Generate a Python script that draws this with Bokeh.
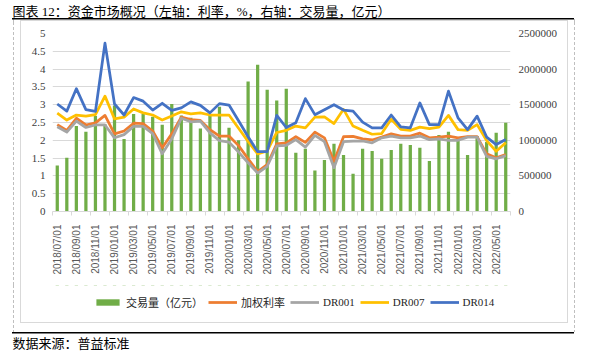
import math
from bokeh.plotting import figure
from bokeh.layouts import column
from bokeh.models import (Range1d, LinearAxis, FixedTicker, Legend, LegendItem,
                          Title, ColumnDataSource)
from bokeh.embed import file_html
from bokeh.resources import INLINE

# ---------------- data ----------------
months = ["2018/07/01", "2018/08/01", "2018/09/01", "2018/10/01", "2018/11/01", "2018/12/01",
          "2019/01/01", "2019/02/01", "2019/03/01", "2019/04/01", "2019/05/01", "2019/06/01",
          "2019/07/01", "2019/08/01", "2019/09/01", "2019/10/01", "2019/11/01", "2019/12/01",
          "2020/01/01", "2020/02/01", "2020/03/01", "2020/04/01", "2020/05/01", "2020/06/01",
          "2020/07/01", "2020/08/01", "2020/09/01", "2020/10/01", "2020/11/01", "2020/12/01",
          "2021/01/01", "2021/02/01", "2021/03/01", "2021/04/01", "2021/05/01", "2021/06/01",
          "2021/07/01", "2021/08/01", "2021/09/01", "2021/10/01", "2021/11/01", "2021/12/01",
          "2022/01/01", "2022/02/01", "2022/03/01", "2022/04/01", "2022/05/01", "2022/06/01"]

volume = [645000, 755000, 1200000, 1120000, 1340000, 1225000, 1490000, 1020000, 1370000, 1370000,
          1330000, 1220000, 1510000, 1350000, 1315000, 1165000, 1340000, 1470000, 1175000, 1000000,
          1825000, 2060000, 1710000, 1560000, 1725000, 825000, 880000, 575000, 725000, 950000,
          795000, 530000, 880000, 850000, 740000, 865000, 950000, 935000, 895000, 710000,
          1075000, 1120000, 1010000, 795000, 1060000, 975000, 1105000, 1245000]

weighted = [2.44, 2.28, 2.62, 2.43, 2.49, 2.70, 2.18, 2.26, 2.48, 2.47, 2.26, 1.79,
            2.18, 2.65, 2.58, 2.56, 2.30, 2.12, 2.12, 1.85, 1.48, 1.12, 1.32, 1.90,
            1.93, 2.10, 1.94, 2.23, 2.07, 1.41, 2.10, 2.11, 2.04, 2.01, 2.09, 2.18,
            2.12, 2.12, 2.20, 2.07, 2.09, 2.12, 2.07, 2.10, 2.10, 1.62, 1.51, 1.60]

dr001 = [2.38, 2.23, 2.54, 2.36, 2.43, 2.43, 2.07, 2.16, 2.39, 2.39, 2.19, 1.62,
         2.04, 2.62, 2.52, 2.54, 2.21, 1.99, 1.95, 1.67, 1.37, 1.08, 1.27, 1.84,
         1.86, 2.02, 1.81, 2.14, 1.96, 1.23, 1.96, 1.98, 1.98, 1.93, 2.07, 2.12,
         2.07, 2.07, 2.12, 2.02, 2.04, 2.00, 2.00, 2.09, 2.09, 1.55, 1.48, 1.57]

dr007 = [2.76, 2.57, 2.71, 2.68, 2.72, 3.24, 2.60, 2.65, 2.88, 2.77, 2.71, 2.57,
         2.68, 2.80, 2.74, 2.77, 2.71, 2.71, 2.71, 2.34, 1.97, 1.62, 1.70, 2.22,
         2.28, 2.40, 2.35, 2.65, 2.66, 2.47, 2.87, 2.40, 2.28, 2.17, 2.19, 2.59,
         2.31, 2.28, 2.37, 2.33, 2.37, 2.70, 2.30, 2.28, 2.44, 1.99, 1.69, 1.93]

dr014 = [3.02, 2.82, 3.45, 2.86, 2.81, 4.73, 3.02, 2.71, 3.20, 3.10, 2.85, 3.04,
         2.84, 2.91, 3.08, 2.98, 2.77, 3.03, 2.99, 2.55, 2.10, 1.68, 1.68, 2.70,
         2.36, 2.49, 3.17, 2.72, 2.86, 3.00, 2.85, 2.82, 2.51, 2.35, 2.35, 2.71,
         2.38, 2.35, 3.05, 2.44, 2.44, 3.38, 2.63, 2.30, 2.68, 2.09, 1.88, 2.02]

left_ticks = [0, 0.5, 1, 1.5, 2, 2.5, 3, 3.5, 4, 4.5, 5]
left_tick_labels = ["0", "0.5", "1", "1.5", "2", "2.5", "3", "3.5", "4", "4.5", "5"]
right_ticks = [0, 500000, 1000000, 1500000, 2000000, 2500000]
right_tick_labels = ["0", "500000", "1000000", "1500000", "2000000", "2500000"]

series_names = ["交易量（亿元）", "加权利率", "DR001", "DR007", "DR014"]
title_text = "图表 12：资金市场概况（左轴：利率，%，右轴：交易量，亿元）"
source_text = "数据来源：普益标准"

# ---------------- styles ----------------
C_BAR = "#70ad47"
C_W = "#ed7d31"
C_001 = "#a5a5a5"
C_007 = "#ffc000"
C_014 = "#4472c4"
SERIF_CJK = "'Liberation Serif', 'Noto Sans CJK SC'"
TXT = "#404040"
LW = 2.75

W, H = 590, 353
TOP_H = 22          # header strip (title)
MAIN_H = 263        # chart strip
BOT_H = H - TOP_H - MAIN_H  # legend + source strip (68)
FL, FR, FT, FB = 52, 510, 33, 211  # frame edges on the whole page

DASH = "repeating-linear-gradient(to bottom, #bfbfbf 0px, #bfbfbf 3px, transparent 3px, transparent 5px)"
BLACK = "linear-gradient(#000000, #000000)"
GREY = "linear-gradient(#d9d9d9, #d9d9d9)"
# page chrome: (x, y, w, h, image) on the whole page
CHROME = [
    (12, 17.5, 562, 1.5, BLACK),
    (12, 332, 562, 1.5, BLACK),
    (13, 19, 1, 313, DASH),
    (574, 19, 1, 313, DASH),
    (20, 20, 548, 1, GREY),
    (20, 322, 548, 1, GREY),
    (20, 20, 1, 302, GREY),
    (567, 20, 1, 303, GREY),
]


def chrome_styles(y0, h):
    imgs, sizes, poss = [], [], []
    for (x, y, w, hh, img) in CHROME:
        ys, ye = max(y, y0), min(y + hh, y0 + h)
        if ye > ys:
            imgs.append(img)
            sizes.append(f"{w}px {ye - ys}px")
            poss.append(f"{x}px {ys - y0}px")
    st = {"background-color": "white", "background-repeat": "no-repeat"}
    if imgs:
        st["background-image"] = ", ".join(imgs)
        st["background-size"] = ", ".join(sizes)
        st["background-position"] = ", ".join(poss)
    return st


def strip_fig(h, y0, top_border, bottom_border, y_range):
    f = figure(width=W, height=h, output_backend="svg", toolbar_location=None,
               x_range=Range1d(-0.5, len(months) - 0.5), y_range=y_range,
               x_axis_location=None, y_axis_location=None,
               min_border_left=FL, min_border_right=W - FR,
               min_border_top=top_border, min_border_bottom=bottom_border,
               styles=chrome_styles(y0, h))
    f.grid.visible = False
    f.outline_line_color = None
    f.background_fill_color = None
    f.border_fill_color = None
    return f


n = len(months)
xs = list(range(n))
src = ColumnDataSource(dict(x=xs, volume=volume, weighted=weighted,
                            dr001=dr001, dr007=dr007, dr014=dr014))

# ---------------- header strip: title ----------------
top = strip_fig(TOP_H, 0, 18, 0, Range1d(0, 1))
top.title.text = title_text
top.title.align = "left"
top.title.offset = 12 - FL
top.title.standoff = 0
top.title.text_font = SERIF_CJK
top.title.text_font_size = "13px"
top.title.text_font_style = "normal"
top.title.text_color = "black"

# ---------------- main chart ----------------
p = figure(width=W, height=MAIN_H, output_backend="svg", toolbar_location=None,
           x_range=Range1d(-0.5, n - 0.5), y_range=Range1d(0, 5),
           min_border_left=FL, min_border_right=W - FR,
           min_border_top=FT - TOP_H, min_border_bottom=TOP_H + MAIN_H - FB,
           styles=chrome_styles(TOP_H, MAIN_H))
p.outline_line_color = None
p.background_fill_color = "white"
p.border_fill_color = None
p.extra_y_ranges = {"vol": Range1d(0, 2500000)}

xax = p.xaxis[0]
xax.ticker = FixedTicker(ticks=list(range(0, n, 2)),
                         minor_ticks=[i - 0.5 for i in range(0, n + 1, 2)])
xax.major_label_overrides = {i: months[i] for i in range(0, n, 2)}
xax.major_label_orientation = math.pi / 2
xax.major_label_text_font = "Liberation Sans"
xax.major_label_text_font_size = "10px"
xax.major_label_text_color = "#595959"
xax.major_label_standoff = 9
xax.major_tick_line_color = None
xax.major_tick_out = 0
xax.major_tick_in = 0
xax.minor_tick_line_color = "#d9d9d9"
xax.minor_tick_out = 4
xax.minor_tick_in = 0
xax.axis_line_color = "#d9d9d9"

yax = p.yaxis[0]
yax.ticker = FixedTicker(ticks=left_ticks)
yax.major_label_overrides = {t: l for t, l in zip(left_ticks, left_tick_labels)}
yax.axis_line_color = None
yax.major_tick_line_color = None
yax.minor_tick_line_color = None
yax.major_tick_out = 0
yax.major_label_standoff = 7
yax.major_label_text_font = "Liberation Serif"
yax.major_label_text_font_size = "11px"
yax.major_label_text_color = TXT

rax = LinearAxis(y_range_name="vol", ticker=FixedTicker(ticks=right_ticks))
rax.major_label_overrides = {t: l for t, l in zip(right_ticks, right_tick_labels)}
rax.axis_line_color = None
rax.major_tick_line_color = None
rax.minor_tick_line_color = None
rax.major_tick_out = 0
rax.major_label_standoff = 8
rax.major_label_text_font = "Liberation Serif"
rax.major_label_text_font_size = "11px"
rax.major_label_text_color = TXT
p.add_layout(rax, "right")

p.xgrid.visible = False
p.ygrid.ticker = FixedTicker(ticks=left_ticks)
p.ygrid.grid_line_color = "#d9d9d9"
p.ygrid.grid_line_width = 1


def draw_series(f, y_range_name="default"):
    kw = {} if y_range_name == "default" else {"y_range_name": y_range_name}
    rb = f.vbar(x="x", top="volume", width=0.34, source=src,
                fill_color=C_BAR, line_color=None, **kw)
    rw = f.line("x", "weighted", source=src, line_color=C_W, line_width=LW, line_join="round")
    r1 = f.line("x", "dr001", source=src, line_color=C_001, line_width=LW, line_join="round")
    r7 = f.line("x", "dr007", source=src, line_color=C_007, line_width=LW, line_join="round")
    r14 = f.line("x", "dr014", source=src, line_color=C_014, line_width=LW, line_join="round")
    return [rb, rw, r1, r7, r14]


draw_series(p, "vol")

# ---------------- legend + source strip ----------------
SRC_PANEL = 22
bot = strip_fig(BOT_H, TOP_H + MAIN_H, 0, SRC_PANEL, Range1d(-2, -1))
# legend swatches: same series, kept out of this strip's (empty) view
keys = draw_series(bot)
frame_h = BOT_H - SRC_PANEL
LEG_CY = 303 - (TOP_H + MAIN_H)   # legend centre inside this strip
LEG_H = 14
legend = Legend(items=[LegendItem(label=nm, renderers=[r]) for nm, r in zip(series_names, keys)],
                orientation="horizontal",
                location=(93 - FL, frame_h - LEG_CY - LEG_H / 2),
                padding=0, margin=0, spacing=5, glyph_width=29, glyph_height=8,
                label_standoff=4, label_height=LEG_H,
                label_text_font=SERIF_CJK, label_text_font_size="11px",
                label_text_color="#262626", border_line_color=None,
                background_fill_alpha=0)
bot.add_layout(legend)
bot.add_layout(Title(text=source_text, align="left", offset=12 - FL, standoff=4,
                     text_font=SERIF_CJK, text_font_size="13px",
                     text_font_style="normal", text_color="black"), "below")

page = column(top, p, bot, spacing=0)
open("out.html", "w").write(file_html(page, INLINE))
